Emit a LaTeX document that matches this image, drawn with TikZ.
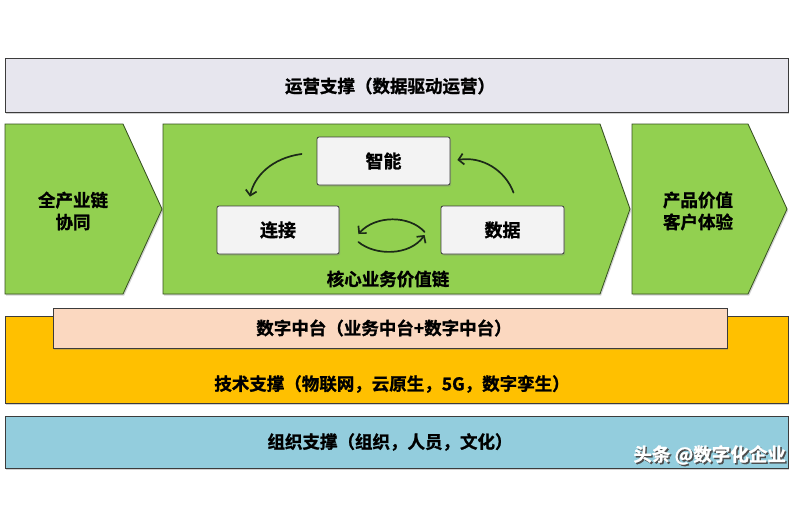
\documentclass[tikz,border=0pt]{standalone}
\usepackage{fontspec}
\newfontfamily\cjk{Noto Sans CJK SC}[BoldFont={Noto Sans CJK SC Bold},BoldFeatures={FakeBold=1.2}]
\usetikzlibrary{arrows.meta,shadows,calc}
\definecolor{topfill}{HTML}{E7E6EE}
\definecolor{grn}{HTML}{92D050}
\definecolor{grnline}{HTML}{35501F}
\definecolor{boxfill}{HTML}{F3F3F3}
\definecolor{yel}{HTML}{FFC000}
\definecolor{peach}{HTML}{FBD8C0}
\definecolor{blu}{HTML}{93CDDD}
\definecolor{edge}{HTML}{3C3C3C}
\definecolor{arr}{HTML}{1C2A18}
\tikzset{
  shd/.style={drop shadow={opacity=0.35,shadow xshift=1.2pt,shadow yshift=-1.5pt}},
  bar/.style={draw=edge,line width=0.8pt,shd},
  txt/.style={font=\cjk\bfseries\fontsize{17.5}{22}\selectfont,text=black,align=center,inner sep=0pt},
  chev/.style={draw=grnline,line width=0.8pt,fill=grn,shd},
  wbox/.style={draw=edge,line width=0.8pt,fill=boxfill,rounded corners=2pt,shd,
    minimum height=48pt,font=\cjk\bfseries\fontsize{18}{22}\selectfont},
  cyc/.style={draw=arr,line width=1.7pt,line cap=round,-{Straight Barb[length=5pt,width=11pt]}},
  wmark/.style={font=\cjk\bfseries\fontsize{18.5}{20}\selectfont,inner sep=0pt,anchor=east},
}
\begin{document}
\begin{tikzpicture}[x=1pt,y=-1pt]
\useasboundingbox (0,0) rectangle (800,528);
\fill[white] (0,0) rectangle (800,528);
% top bar
\path[bar,fill=topfill] (5,58) rectangle (788,112);
\node[txt] (top) at (390,86) {运营支撑（数据驱动运营）};
% chevrons
\path[chev] (5,124) -- (123,124) -- (162,209) -- (123,294) -- (5,294) -- cycle;
\path[chev] (163,124) -- (600,124) -- (630,209) -- (600,294) -- (163,294) -- cycle;
\path[chev] (632,124) -- (748,124) -- (787,209) -- (748,294) -- (632,294) -- cycle;
\node[txt] (left) at (73,211) {全产业链\\协同};
\node[txt] (right) at (698,211) {产品价值\\客户体验};
\node[txt] (core) at (388,279) {核心业务价值链};
% boxes
\node[wbox,minimum width=133pt] (zn) at (383.5,161) {智能};
\node[wbox,minimum width=122pt] (lj) at (278,230) {连接};
\node[wbox,minimum width=123pt] (sj) at (502.5,230) {数据};
% cycle arrows
\coordinate (a1s) at ($(zn.west)+(-15,-7)$);
\coordinate (a1e) at ($(lj.north)+(-28,-9)$);
\coordinate (a2s) at ($(sj.north)+(11,-13)$);
\coordinate (a2e) at ($(zn.east)+(7,-1)$);
\coordinate (a3s) at ($(sj.west)+(-16,2)$);
\coordinate (a3e) at ($(lj.east)+(19,4)$);
\coordinate (a4s) at ($(lj.east)+(19,12)$);
\coordinate (a4e) at ($(sj.west)+(-16,5)$);
\draw[cyc] (a1s) .. controls ($(a1s)+(-30,4)$) and ($(a1e)+(4,-20)$) .. (a1e);
\draw[cyc] (a2s) .. controls ($(a2s)+(-8,-22)$) and ($(a2e)+(25,-4)$) .. (a2e);
\draw[cyc] (a3s) .. controls ($(a3s)+(-15,-17)$) and ($(a3e)+(17,-19)$) .. (a3e);
\draw[cyc] (a4s) .. controls ($(a4s)+(17,14)$) and ($(a4e)+(-15,21)$) .. (a4e);
% yellow band
\path[bar,fill=yel] (5,316) rectangle (788,403);
\path[bar,fill=peach] (53,308) rectangle (727,348);
\node[txt] (mid) at (384,328) {数字中台（业务中台+数字中台）};
\node[txt] (tech) at (392,384) {技术支撑（物联网，云原生，5G，数字孪生）};
% blue band
\path[bar,fill=blu] (5,416) rectangle (788,468);
\node[txt] (org) at (390,442) {组织支撑（组织，人员，文化）};
% watermark
\node[wmark,text=black!70] (wms) at (787.5,456.5) {头条 @数字化企业};
\node[wmark,text=white] (wm) at (786,455) {头条 @数字化企业};
\end{tikzpicture}
\end{document}
